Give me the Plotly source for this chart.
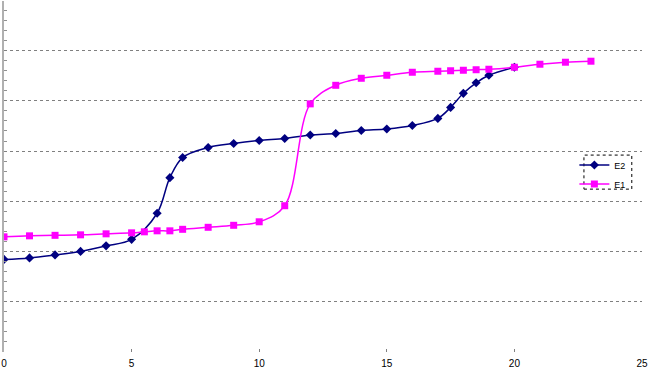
import plotly.graph_objects as go

# E2 series (navy diamonds)
e2_x = [0, 1, 2, 3, 4, 5, 6, 6.5, 7, 8, 9, 10, 11, 12, 13, 14, 15, 16, 17, 17.5, 18, 18.5, 19, 20]
e2_y = [1.84, 1.87, 1.93, 2.00, 2.11, 2.24, 2.76, 3.47, 3.87, 4.07, 4.15, 4.21, 4.25, 4.32,
        4.35, 4.41, 4.44, 4.51, 4.65, 4.87, 5.15, 5.36, 5.51, 5.67]

# E1 series (magenta squares)
e1_x = [0, 1, 2, 3, 4, 5, 5.5, 6, 6.5, 7, 8, 9, 10, 11, 12, 13, 14, 15, 16, 17, 17.5, 18,
        18.5, 19, 20, 21, 22, 23]
e1_y = [2.29, 2.31, 2.32, 2.33, 2.35, 2.37, 2.39, 2.41, 2.41, 2.44, 2.48, 2.52, 2.59, 2.91,
        4.94, 5.31, 5.45, 5.51, 5.57, 5.59, 5.60, 5.61, 5.62, 5.63, 5.67, 5.73, 5.77, 5.79]

x_ticks = [0, 5, 10, 15, 20, 25]
x_tick_labels = ["0", "5", "10", "15", "20", "25"]

fig = go.Figure()
fig.add_trace(go.Scatter(
    x=e2_x, y=e2_y, name="E2", mode="lines+markers",
    line=dict(color="#000080", width=1.5, shape="spline", smoothing=1.0),
    marker=dict(symbol="diamond", size=7, color="#000080"),
))
fig.add_trace(go.Scatter(
    x=e1_x, y=e1_y, name="E1", mode="lines+markers",
    line=dict(color="#FF00FF", width=1.5, shape="spline", smoothing=1.0),
    marker=dict(symbol="square", size=7, color="#FF00FF"),
))

fig.update_layout(
    width=648, height=372,
    margin=dict(l=4, r=6, t=1, b=20, autoexpand=False),
    paper_bgcolor="white", plot_bgcolor="white",
    font=dict(family="Liberation Sans, Arial, sans-serif", size=10, color="#000000"),
    showlegend=True,
    legend=dict(
        x=0.894, y=0.574, xanchor="left", yanchor="top",
        bgcolor="rgba(0,0,0,0)", borderwidth=0,
        font=dict(size=9, color="#000000"),
        itemwidth=30, tracegroupgap=0,
    ),
    shapes=[dict(
        type="rect", xref="paper", yref="paper",
        x0=0.909, x1=0.984, y0=0.464, y1=0.561,
        line=dict(color="#000000", width=1, dash="dot"),
        fillcolor="rgba(0,0,0,0)",
    )],
)

fig.update_xaxes(
    range=[0, 25], tickvals=x_ticks, ticktext=x_tick_labels,
    showgrid=False, zeroline=False, showline=False, automargin=False,
    ticks="inside", ticklen=3, tickcolor="#808080",
    ticklabeloverflow="allow", ticklabelstandoff=4,
    tickfont=dict(size=10, color="#000000"),
)
fig.update_yaxes(
    range=[-0.005, 6.99], dtick=1, tick0=0, automargin=False,
    showgrid=True, gridcolor="#808080", griddash="dot", gridwidth=1,
    zeroline=False, showline=True, linecolor="#b0b0b0", linewidth=2,
    showticklabels=False, ticks="inside", ticklen=3, tickcolor="#808080",
    minor=dict(dtick=0.2, ticks="inside", ticklen=3, tickcolor="#909090", showgrid=False),
)

fig.write_html("out.html", config={"displayModeBar": False},
               post_script="document.body.style.margin='0';")
